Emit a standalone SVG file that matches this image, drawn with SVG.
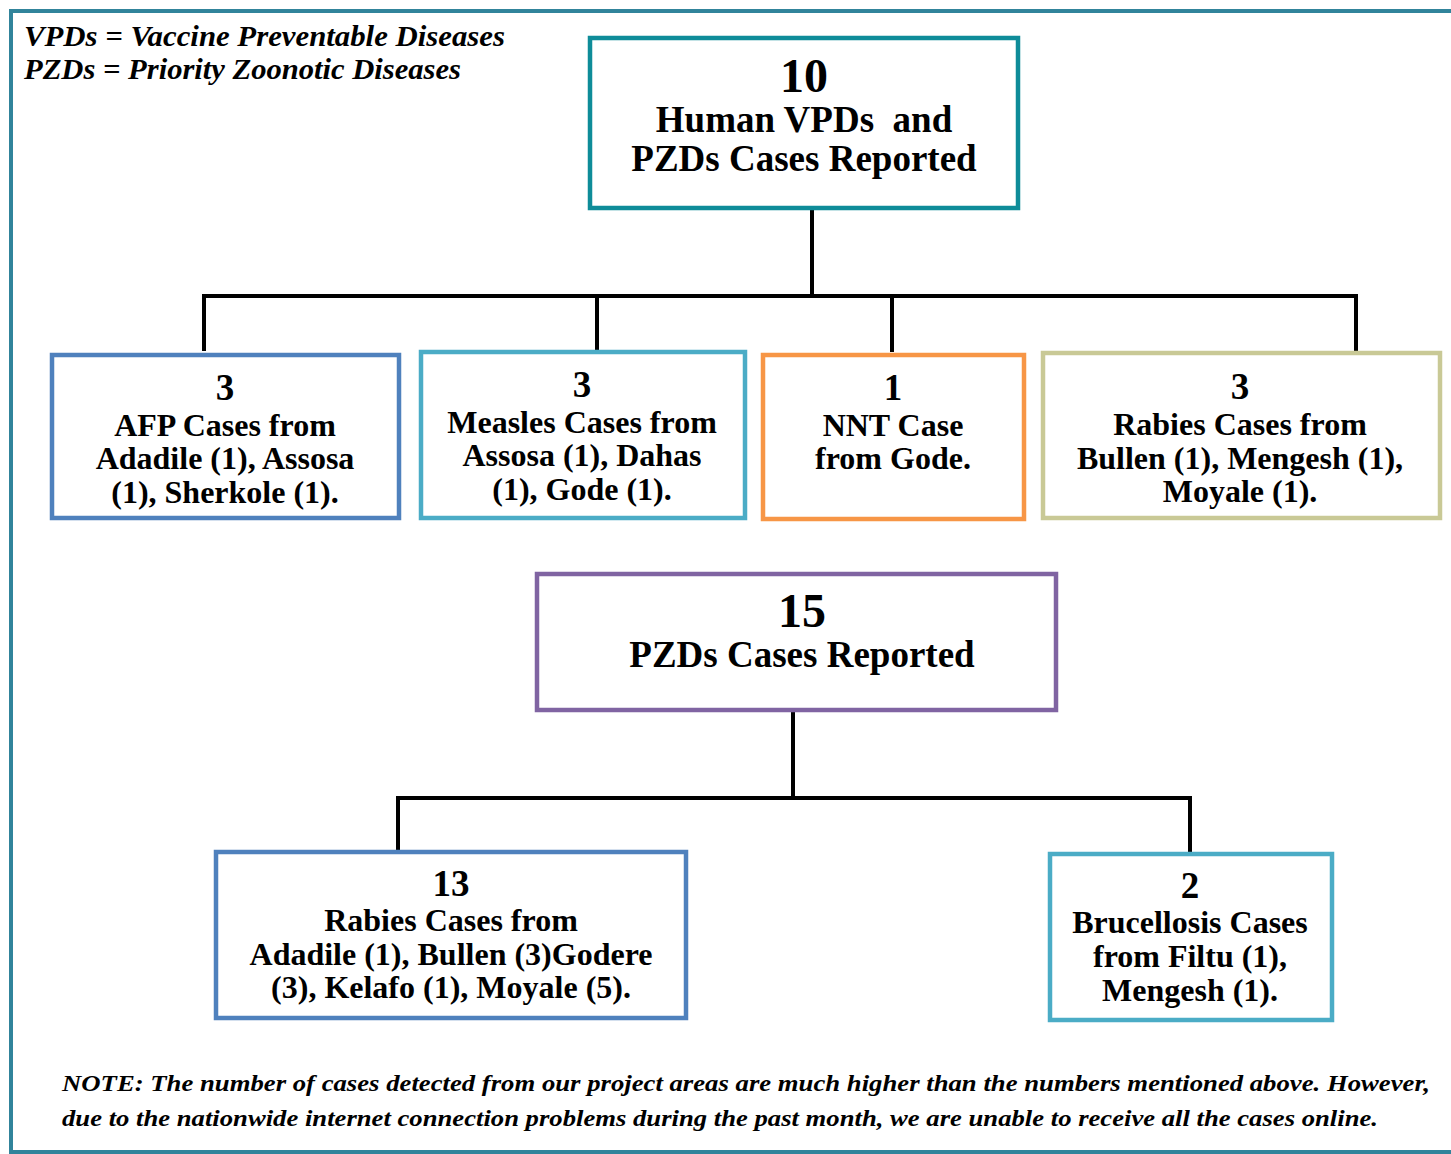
<svg xmlns="http://www.w3.org/2000/svg" width="1451" height="1154" viewBox="0 0 1451 1154">
<style>
.box{fill:#fff;stroke-width:4.5}
.t{font-family:"Liberation Serif","Times New Roman",serif;font-weight:bold;text-anchor:middle;fill:#000}
.num{font-size:48px}
.big{font-size:37px}
.body{font-size:32px}
.leg{font-family:"Liberation Serif","Times New Roman",serif;font-weight:bold;font-style:italic;font-size:30px;fill:#000}
.note{font-family:"Liberation Serif","Times New Roman",serif;font-weight:bold;font-style:italic;font-size:23px;fill:#000}
.c{fill:none;stroke:#000;stroke-width:4}
</style>
<rect width="1451" height="1154" fill="#fff"/>
<rect x="11" y="11" width="1460" height="1141" fill="none" stroke="#31849B" stroke-width="4"/>
<g id="legend">
<text class="leg" x="24" y="46" textLength="481" lengthAdjust="spacingAndGlyphs">VPDs = Vaccine Preventable Diseases</text>
<text class="leg" x="24" y="79" textLength="437" lengthAdjust="spacingAndGlyphs">PZDs = Priority Zoonotic Diseases</text>
</g>
<g id="connectors">
<path class="c" d="M812 208V296M204 296H1356M204 294V351M597 296V352M892 296V352M1356 294V353"/>
<path class="c" d="M793 710V798M398 798H1190M398 796V851M1190 796V853"/>
</g>
<g id="n-total-human">
<rect class="box" x="590" y="38" width="428" height="170" stroke="#0E8C99"/>
<text class="t num" x="804" y="92">10</text>
<text class="t big" x="804" y="132" xml:space="preserve">Human VPDs  and</text>
<text class="t big" x="804" y="171">PZDs Cases Reported</text>
</g>
<g id="n-afp">
<rect class="box" x="52" y="355" width="347" height="163" stroke="#4F81BD"/>
<text class="t big" x="225" y="400">3</text>
<text class="t body" x="225" y="436">AFP Cases from</text>
<text class="t body" x="225" y="469">Adadile (1), Assosa</text>
<text class="t body" x="225" y="503">(1), Sherkole (1).</text>
</g>
<g id="n-measles">
<rect class="box" x="421" y="352" width="324" height="166" stroke="#4BACC6"/>
<text class="t big" x="582" y="397">3</text>
<text class="t body" x="582" y="433">Measles Cases from</text>
<text class="t body" x="582" y="466">Assosa (1), Dahas</text>
<text class="t body" x="582" y="500">(1), Gode (1).</text>
</g>
<g id="n-nnt">
<rect class="box" x="763" y="355" width="261" height="164" stroke="#F79646"/>
<text class="t big" x="893" y="400">1</text>
<text class="t body" x="893" y="436">NNT Case</text>
<text class="t body" x="893" y="469">from Gode.</text>
</g>
<g id="n-rabies-human">
<rect class="box" x="1043" y="353" width="397" height="165" stroke="#C9C996"/>
<text class="t big" x="1240" y="399">3</text>
<text class="t body" x="1240" y="435">Rabies Cases from</text>
<text class="t body" x="1240" y="469">Bullen (1), Mengesh (1),</text>
<text class="t body" x="1240" y="502">Moyale (1).</text>
</g>
<g id="n-total-pzd">
<rect class="box" x="537" y="574" width="519" height="136" stroke="#8064A2"/>
<text class="t num" x="802" y="627">15</text>
<text class="t big" x="802" y="667">PZDs Cases Reported</text>
</g>
<g id="n-rabies-pzd">
<rect class="box" x="216" y="852" width="470" height="166" stroke="#4F81BD"/>
<text class="t big" x="451" y="896">13</text>
<text class="t body" x="451" y="931">Rabies Cases from</text>
<text class="t body" x="451" y="965">Adadile (1), Bullen (3)Godere</text>
<text class="t body" x="451" y="998">(3), Kelafo (1), Moyale (5).</text>
</g>
<g id="n-brucellosis">
<rect class="box" x="1050" y="854" width="282" height="166" stroke="#4BACC6"/>
<text class="t big" x="1190" y="898">2</text>
<text class="t body" x="1190" y="933">Brucellosis Cases</text>
<text class="t body" x="1190" y="967">from Filtu (1),</text>
<text class="t body" x="1190" y="1001">Mengesh (1).</text>
</g>
<g id="note">
<text class="note" x="62" y="1091" textLength="1368" lengthAdjust="spacingAndGlyphs">NOTE: The number of cases detected from our project areas are much higher than the numbers mentioned above. However,</text>
<text class="note" x="62" y="1126" textLength="1316" lengthAdjust="spacingAndGlyphs">due to the nationwide internet connection problems during the past month, we are unable to receive all the cases online.</text>
</g>
</svg>
